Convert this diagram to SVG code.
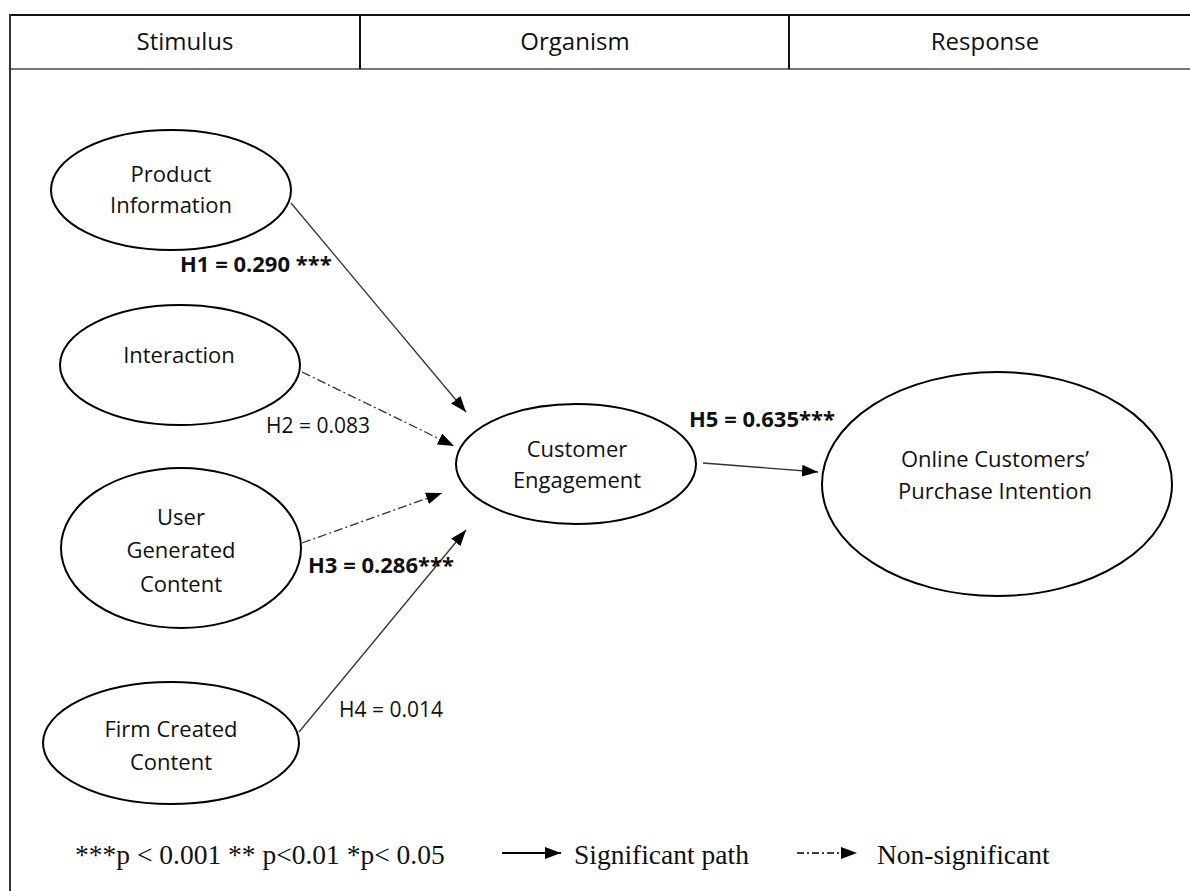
<svg xmlns="http://www.w3.org/2000/svg" width="1190" height="891" viewBox="0 0 1190 891">
<style>
.node{fill:#fff;stroke:#000;stroke-width:2}
.t{font-family:"Open Sans","Noto Sans",sans-serif;font-size:22px;fill:#111;text-anchor:middle}
.hd{font-family:"Open Sans","Noto Sans",sans-serif;font-size:24px;fill:#111;text-anchor:middle}
.lb{font-family:"Open Sans","Noto Sans",sans-serif;font-size:21px;fill:#111}
.b{font-weight:bold;font-size:22px}
.lg{font-family:"Liberation Serif","Times New Roman",serif;font-size:27.5px;fill:#111}
.sig{stroke:#333;stroke-width:1.3;fill:none}
.ns{stroke:#333;stroke-width:1.3;fill:none;stroke-dasharray:9 3 2 3}
</style>
<defs>
<marker id="ah" markerUnits="userSpaceOnUse" markerWidth="16" markerHeight="12" viewBox="0 0 16 12" refX="16" refY="6" orient="auto">
<path d="M0,0 L16,6 L0,12 Z" fill="#000"/>
</marker>
</defs>
<rect width="1190" height="891" fill="#fff"/>
<g id="table">
<line x1="10" y1="15" x2="1195" y2="15" stroke="#111" stroke-width="2"/>
<line x1="10" y1="69" x2="1195" y2="69" stroke="#777" stroke-width="2"/>
<line x1="10" y1="14" x2="10" y2="891" stroke="#333" stroke-width="2"/>
<line x1="360" y1="15" x2="360" y2="69" stroke="#111" stroke-width="2"/>
<line x1="789" y1="15" x2="789" y2="69" stroke="#111" stroke-width="2"/>
<text class="hd" x="185" y="50">Stimulus</text>
<text class="hd" x="575" y="50">Organism</text>
<text class="hd" x="985" y="50">Response</text>
</g>
<g id="connectors">
<line class="sig" x1="291" y1="203" x2="466" y2="412" marker-end="url(#ah)"/>
<line class="ns" x1="302" y1="372" x2="454" y2="446" marker-end="url(#ah)"/>
<line class="ns" x1="302" y1="543" x2="442" y2="493" marker-end="url(#ah)"/>
<line class="sig" x1="299" y1="732" x2="466" y2="530" marker-end="url(#ah)"/>
<line class="sig" x1="703" y1="463" x2="818" y2="472" marker-end="url(#ah)"/>
<text class="lb b" x="180" y="272">H1 = 0.290 ***</text>
<text class="lb" x="266" y="433">H2 = 0.083</text>
<text class="lb b" x="308" y="573">H3 = 0.286***</text>
<text class="lb" x="339" y="717">H4 = 0.014</text>
<text class="lb b" x="689" y="427">H5 = 0.635***</text>
</g>
<g id="product-information">
<ellipse class="node" cx="171" cy="190" rx="120" ry="60"/>
<text class="t" x="171" y="182">Product</text>
<text class="t" x="171" y="213">Information</text>
</g>
<g id="interaction">
<ellipse class="node" cx="180" cy="365" rx="120" ry="60"/>
<text class="t" x="179" y="363">Interaction</text>
</g>
<g id="user-generated-content">
<ellipse class="node" cx="181" cy="548" rx="120" ry="80"/>
<text class="t" x="181" y="525">User</text>
<text class="t" x="181" y="558">Generated</text>
<text class="t" x="181" y="592">Content</text>
</g>
<g id="firm-created-content">
<ellipse class="node" cx="171" cy="743" rx="128" ry="61"/>
<text class="t" x="171" y="737">Firm Created</text>
<text class="t" x="171" y="770">Content</text>
</g>
<g id="customer-engagement">
<ellipse class="node" cx="576" cy="464" rx="120" ry="60"/>
<text class="t" x="577" y="457">Customer</text>
<text class="t" x="577" y="488">Engagement</text>
</g>
<g id="purchase-intention">
<ellipse class="node" cx="997" cy="484" rx="175" ry="112"/>
<text class="t" x="995" y="467">Online Customers’</text>
<text class="t" x="995" y="499">Purchase Intention</text>
</g>
<g id="legend">
<text class="lg" x="75" y="864">***p &lt; 0.001 ** p&lt;0.01 *p&lt; 0.05</text>
<line x1="502" y1="853" x2="561" y2="853" stroke="#000" stroke-width="1.8" marker-end="url(#ah)"/>
<text class="lg" x="574" y="864">Significant path</text>
<line x1="797" y1="853" x2="857" y2="853" stroke="#000" stroke-width="1.3" stroke-dasharray="7 3 2 3" marker-end="url(#ah)"/>
<text class="lg" x="877" y="864">Non-significant</text>
</g>
</svg>
